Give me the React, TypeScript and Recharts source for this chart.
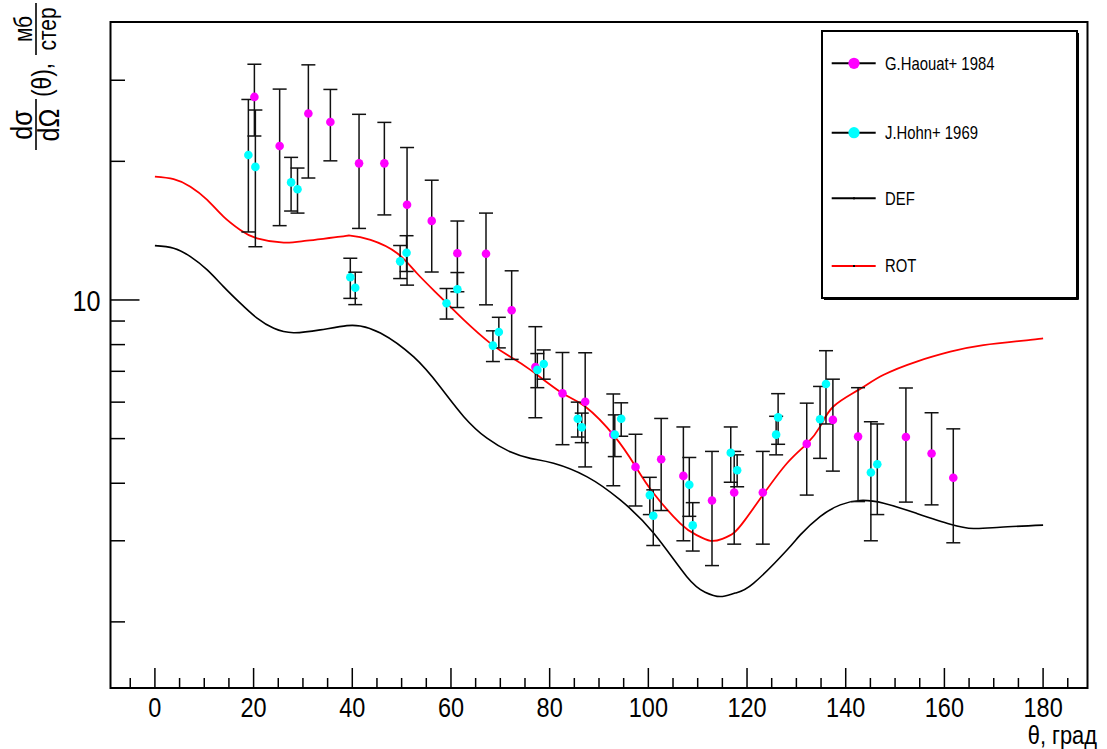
import React from 'react';
import { ComposedChart, Line, Scatter, XAxis, YAxis, ErrorBar, ReferenceArea, Legend } from 'recharts';

if (typeof document !== 'undefined') {
  document.body.style.margin = '0';
  document.body.style.overflow = 'hidden';
}

const FONT = '"Liberation Sans", Arial, sans-serif';
const NARROW = 0.84;

const X_MIN = -9;
const X_MAX = 189;
const Y_MIN = 1.437;
const Y_MAX = 40.14;

const xTicks = [-5, 0, 5, 10, 15, 20, 25, 30, 35, 40, 45, 50, 55, 60, 65, 70, 75, 80, 85, 90, 95, 100, 105, 110, 115, 120, 125, 130, 135, 140, 145, 150, 155, 160, 165, 170, 175, 180, 185];
const xLabels = [0, 20, 40, 60, 80, 100, 120, 140, 160, 180];
const yTicks = [2, 3, 4, 5, 6, 7, 8, 9, 10, 20, 30];
const yLabels = [10];

const defX = [0, 3.8, 7.2, 10.6, 13.9, 17.3, 20.7, 24.1, 28.1, 33.5, 38.9, 41.6, 45.7, 52.4, 57.8, 62.6, 67.3, 72.0, 76.1, 80.8, 87.6, 94.3, 101.1, 107.8, 111.5, 114.6, 117.6, 121.3, 128.1, 130.8, 134.8, 138.9, 142.9, 147.7, 154.4, 161.2, 165.9, 171.3, 180];
const defY = [13.12, 12.95, 12.42, 11.62, 10.69, 9.84, 9.13, 8.68, 8.49, 8.61, 8.795, 8.78, 8.48, 7.53, 6.48, 5.58, 5.01, 4.68, 4.53, 4.42, 4.13, 3.68, 3.115, 2.507, 2.32, 2.27, 2.31, 2.425, 2.865, 3.09, 3.385, 3.59, 3.67, 3.62, 3.44, 3.26, 3.19, 3.21, 3.245];

const rotX = [0, 3.8, 7.2, 10.6, 13.9, 17.3, 20.7, 26.1, 30.8, 37.6, 39.6, 43.7, 49.1, 53.1, 57.8, 62.6, 68.0, 72.0, 76.1, 82.6, 87.2, 93.2, 97.4, 101.1, 106.5, 109.7, 112.6, 115.0, 117.3, 119.6, 123.2, 128.1, 132.1, 134.8, 137.5, 142.6, 147.6, 154.4, 161.2, 167.9, 177.4, 180];
const rotY = [18.52, 18.29, 17.62, 16.49, 15.17, 14.19, 13.61, 13.32, 13.45, 13.72, 13.8, 13.5, 12.63, 11.43, 10.17, 9.05, 8.05, 7.53, 7.05, 6.27, 5.87, 5.05, 4.35, 3.80, 3.27, 3.09, 3.00, 3.03, 3.12, 3.33, 3.77, 4.42, 4.87, 5.31, 5.87, 6.38, 6.87, 7.35, 7.72, 7.98, 8.19, 8.25];

const haouatX = [20.16, 25.28, 31.1, 35.56, 41.37, 46.5, 51.1, 56.1, 61.3, 67.1, 72.3, 77.1, 82.6, 87.2, 92.9, 97.4, 102.6, 107.1, 112.9, 117.4, 123.2, 132.1, 137.4, 142.5, 152.2, 157.4, 161.8];
const haouatY = [27.6, 21.6, 25.4, 24.35, 19.8, 19.8, 16.1, 14.85, 12.63, 12.6, 9.5, 7.15, 6.27, 6.01, 5.1, 4.34, 4.51, 4.15, 3.67, 3.82, 3.82, 4.87, 5.49, 5.05, 5.04, 4.64, 4.11];
const haouatErr = [4.9, 7.1, 7.0, 4.3, 5.5, 4.5, 5.33, 3.35, 2.21, 2.84, 2.07, 1.6, 1.42, 1.67, 1.15, 0.77, 1.02, 1.15, 1.02, 0.87, 0.87, 1.1, 1.24, 1.4, 1.4, 1.05, 1.14];

const hohnX = [18.94, 20.36, 27.6, 28.9, 39.6, 40.6, 49.7, 51.0, 59.1, 61.3, 68.5, 69.7, 77.5, 78.8, 85.7, 86.5, 93.2, 94.5, 100.3, 101.0, 108.3, 109.0, 116.7, 118.0, 125.9, 126.3, 134.8, 136.0, 145.1, 146.4];
const hohnY = [20.65, 19.45, 18.0, 17.39, 11.2, 10.63, 12.13, 12.66, 9.84, 10.55, 7.96, 8.52, 7.05, 7.26, 5.52, 5.29, 5.10, 5.52, 3.77, 3.40, 3.97, 3.24, 4.66, 4.27, 5.10, 5.56, 5.51, 6.57, 4.22, 4.40];
const hohnErr = [6.6, 6.4, 2.4, 1.95, 1.12, 0.86, 1.0, 1.13, 0.75, 0.92, 0.61, 0.65, 0.6, 0.53, 0.48, 0.39, 0.53, 0.46, 0.35, 0.47, 0.58, 0.39, 0.64, 0.34, 0.49, 0.7, 0.98, 1.19, 1.22, 0.98];

const seriesNames = ['G.Haouat+ 1984', 'J.Hohn+ 1969', 'DEF', 'ROT'];

const defData = defX.map((x, i) => ({ x, y: defY[i] }));
const rotData = rotX.map((x, i) => ({ x, y: rotY[i] }));
const haouatData = haouatX.map((x, i) => ({ x, y: haouatY[i], e: haouatErr[i] }));
const hohnData = hohnX.map((x, i) => ({ x, y: hohnY[i], e: hohnErr[i] }));

const XTick = (props: any) => {
  const { x, y, payload } = props;
  const v = payload.value;
  const major = v % 20 === 0;
  const len = major ? 20 : 10;
  return (
    <g>
      <line x1={x} x2={x} y1={y} y2={y - len} stroke="#000" strokeWidth={1.5} />
      {xLabels.includes(v) && (
        <text transform={`translate(${x},${y + 29}) scale(${NARROW},1)`} textAnchor="middle" fontSize={28} fontFamily={FONT} fill="#000">
          {v}
        </text>
      )}
    </g>
  );
};

const YTick = (props: any) => {
  const { x, y, payload } = props;
  const v = payload.value;
  const major = yLabels.includes(v);
  const len = major ? 29 : 14.5;
  return (
    <g>
      <line x1={x} x2={x + len} y1={y} y2={y} stroke="#000" strokeWidth={1.5} />
      {major && (
        <text transform={`translate(${x - 10},${y + 11}) scale(${NARROW},1)`} textAnchor="end" fontSize={30} fontFamily={FONT} fill="#000">
          {v}
        </text>
      )}
    </g>
  );
};

const Dot = (color: string) => (props: any) => {
  const { cx, cy } = props;
  if (cx == null || cy == null) return <g />;
  return <circle cx={cx} cy={cy} r={4.3} fill={color} />;
};

const LegendBox = () => {
  const rows = [33.3, 102.7, 168.3, 236];
  const colors = ['#ff00ff', '#00ffff'];
  return (
    <svg width={259} height={271} style={{ display: 'block' }}>
      <rect x={1} y={1} width={255} height={267} fill="#fff" stroke="#000" strokeWidth={2} />
      <line x1={3} x2={257.5} y1={269.5} y2={269.5} stroke="#000" strokeWidth={1} />
      <line x1={257.5} x2={257.5} y1={3} y2={269.5} stroke="#000" strokeWidth={1} />
      {seriesNames.map((name, i) => {
        const ry = rows[i];
        const lineColor = i === 3 ? '#ff0000' : '#000';
        return (
          <g key={name}>
            <line x1={10.7} x2={54.7} y1={ry} y2={ry} stroke={lineColor} strokeWidth={2} />
            {i < 2 && <circle cx={33} cy={ry} r={5.6} fill={colors[i]} />}
            {i >= 2 && <rect x={32} y={ry - 1} width={2} height={2} fill="#000" />}
            <text transform={`translate(64,${ry + 6.3}) scale(${NARROW},1)`} fontSize={17.7} fontFamily={FONT} fill="#000">
              {name}
            </text>
          </g>
        );
      })}
    </svg>
  );
};

export default function App() {
  return (
    <div style={{ position: 'relative', width: 1107, height: 749, background: '#fff' }}>
      <ComposedChart width={1107} height={749} margin={{ top: 22, right: 19.5, left: 0, bottom: 0 }}>
        <XAxis
          dataKey="x"
          type="number"
          domain={[X_MIN, X_MAX]}
          allowDataOverflow
          ticks={xTicks}
          interval={0}
          height={61}
          axisLine={false}
          tickLine={false}
          tickSize={0}
          tickMargin={0}
          tick={<XTick />}
        />
        <YAxis
          dataKey="y"
          type="number"
          scale="log"
          domain={[Y_MIN, Y_MAX]}
          allowDataOverflow
          ticks={yTicks}
          interval={0}
          width={110.5}
          axisLine={false}
          tickLine={false}
          tickSize={0}
          tickMargin={0}
          tick={<YTick />}
        />
        <ReferenceArea x1={X_MIN} x2={X_MAX} y1={Y_MIN} y2={Y_MAX} fill="none" stroke="#000" strokeWidth={2} ifOverflow="visible" />
        <Line data={defData} dataKey="y" type="natural" stroke="#000" strokeWidth={1.6} dot={false} isAnimationActive={false} />
        <Line data={rotData} dataKey="y" type="natural" stroke="#ff0000" strokeWidth={1.8} dot={false} isAnimationActive={false} />
        <Scatter data={haouatData} shape={Dot('#ff00ff')} isAnimationActive={false}>
          <ErrorBar dataKey="e" direction="y" width={7} stroke="#111" strokeWidth={1.5} isAnimationActive={false} />
        </Scatter>
        <Scatter data={hohnData} shape={Dot('#00ffff')} isAnimationActive={false}>
          <ErrorBar dataKey="e" direction="y" width={7} stroke="#111" strokeWidth={1.5} isAnimationActive={false} />
        </Scatter>
        <Legend
          layout="vertical"
          align="center"
          verticalAlign="middle"
          content={() => <LegendBox />}
          wrapperStyle={{ position: 'absolute', left: 821, top: 30, width: 259, height: 271 }}
        />
      </ComposedChart>
      <svg width={1107} height={749} style={{ position: 'absolute', left: 0, top: 0, pointerEvents: 'none' }}>
        <g fontFamily={FONT} fill="#000">
          <text transform={`translate(1097,744) scale(${NARROW},1)`} textAnchor="end" fontSize={26}>θ, град</text>
          <g transform="translate(36,152) rotate(-90)">
            <text transform={`translate(27,-4) scale(${NARROW},1)`} textAnchor="middle" fontSize={30}>dσ</text>
            <line x1={2} x2={53} y1={0} y2={0} stroke="#000" strokeWidth={1.6} />
            <text transform={`translate(27,23) scale(${NARROW},1)`} textAnchor="middle" fontSize={30}>dΩ</text>
            <text transform={`translate(55,15) scale(${NARROW},1)`} fontSize={27}>(θ),</text>
            <text transform={`translate(123,-4) scale(${NARROW},1)`} textAnchor="middle" fontSize={25}>мб</text>
            <line x1={97} x2={149} y1={0} y2={0} stroke="#000" strokeWidth={1.6} />
            <text transform={`translate(123,20) scale(${NARROW},1)`} textAnchor="middle" fontSize={25}>стер</text>
          </g>
        </g>
      </svg>
    </div>
  );
}
